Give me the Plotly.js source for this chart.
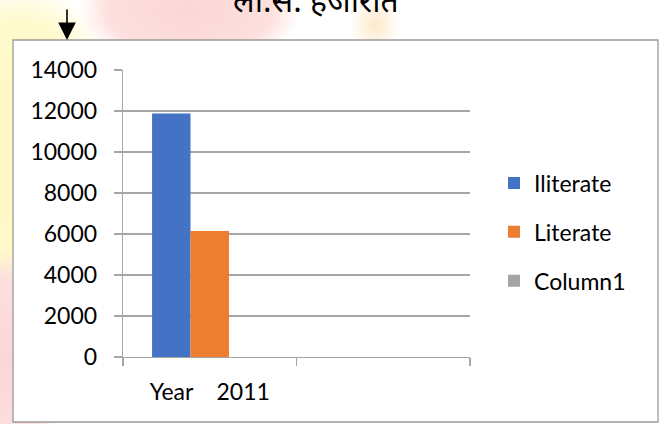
<!DOCTYPE html>
<html>
<head>
<meta charset="utf-8">
<script src="https://cdn.plot.ly/plotly-3.0.1.min.js"></script>
<style>html,body{margin:0;padding:0;background:#fff;}#chart{width:667px;height:424px;}</style>
</head>
<body>
<div id="chart"></div>
<script>
// ---- data ----
const categories = ["Year\u00a0\u00a0\u00a0\u00a02011", "\u00a0"];
const seriesNames = ["Iliterate", "Literate", "Column1"];
const illiterate = [11880, null];
const literate = [6150, null];
const column1 = [0, null];
const yTickVals = [0, 2000, 4000, 6000, 8000, 10000, 12000, 14000];
const titleText = "लो.सं. हजारात";

// ---- layout geometry (pixels) ----
const W = 667, H = 424;
const plotL = 123, plotR = 470, plotT = 70, plotB = 357;
const pw = plotR - plotL, ph = plotB - plotT;
const px = x => (x - plotL) / pw;
const py = y => (plotB - y) / ph;

const colors = ["#4472C4", "#ED7D31", "#A5A5A5"];
const values = [illiterate, literate, column1];
const FONT = "Lato, 'Open Sans', sans-serif";
const FS = 23;

const traces = seriesNames.map((n, i) => ({
  type: "bar", name: n, x: categories, y: values[i],
  marker: {color: colors[i], line: {width: 0}},
  legendgroup: "g" + i, hoverinfo: "skip"
}));

const bgSvg = `<svg xmlns='http://www.w3.org/2000/svg' width='667' height='424'>
<defs>
<radialGradient id='y' cx='0.5' cy='0.5' r='0.5'><stop offset='0' stop-color='#fff8c4'/><stop offset='0.75' stop-color='#fffacc'/><stop offset='1' stop-color='#fffacc' stop-opacity='0'/></radialGradient>
<radialGradient id='p' cx='0.5' cy='0.5' r='0.5'><stop offset='0' stop-color='#fcd6d6'/><stop offset='0.75' stop-color='#fde0de'/><stop offset='1' stop-color='#fde0de' stop-opacity='0'/></radialGradient>
<radialGradient id='o' cx='0.5' cy='0.5' r='0.5'><stop offset='0' stop-color='#fde9c8'/><stop offset='1' stop-color='#fde9c8' stop-opacity='0'/></radialGradient>
</defs>
<rect width='667' height='424' fill='#ffffff'/>
<ellipse cx='20' cy='150' rx='110' ry='170' fill='url(#y)'/>
<ellipse cx='190' cy='10' rx='110' ry='60' fill='url(#p)'/>
<ellipse cx='10' cy='360' rx='60' ry='110' fill='url(#p)'/>
<ellipse cx='375' cy='25' rx='25' ry='30' fill='url(#o)'/>
</svg>`;

const layout = {
  width: W, height: H,
  margin: {l: plotL, r: W - plotR, t: plotT, b: H - plotB, pad: 0},
  paper_bgcolor: "rgba(0,0,0,0)",
  plot_bgcolor: "rgba(0,0,0,0)",
  font: {family: FONT, size: FS, color: "#000"},
  barmode: "group", bargap: 0.335, bargroupgap: 0,
  showlegend: true,
  legend: {
    x: px(494), xanchor: "left", y: py(232), yanchor: "middle",
    traceorder: "grouped", tracegroupgap: 16,
    font: {family: FONT, size: FS, color: "#000"},
    bgcolor: "rgba(0,0,0,0)", borderwidth: 0
  },
  xaxis: {
    type: "category", categoryorder: "array", categoryarray: categories,
    range: [-0.5, 1.5], fixedrange: true,
    showline: true, linecolor: "#A6A6A6", linewidth: 1.3,
    ticks: "outside", tickson: "boundaries", ticklen: 8, tickcolor: "#A6A6A6", tickwidth: 1.3,
    showgrid: false, zeroline: false, ticklabelstandoff: 14,
    tickfont: {family: FONT, size: FS, color: "#000"}
  },
  yaxis: {
    range: [0, 14000], tickvals: yTickVals, ticktext: yTickVals.map(String),
    showline: true, linecolor: "#A6A6A6", linewidth: 1.3,
    ticks: "outside", ticklen: 8, tickcolor: "#A6A6A6", tickwidth: 1.3,
    showgrid: true, gridcolor: "#A6A6A6", gridwidth: 1.3, zeroline: false,
    ticklabelstandoff: 12, fixedrange: true,
    tickfont: {family: FONT, size: FS, color: "#000"}
  },
  images: [{
    source: "data:image/svg+xml;charset=utf-8," + encodeURIComponent(bgSvg),
    xref: "paper", yref: "paper", x: px(0), y: py(0), sizex: W / pw, sizey: H / ph,
    xanchor: "left", yanchor: "top", sizing: "stretch", layer: "below"
  }],
  shapes: [{
    type: "rect", xref: "paper", yref: "paper", layer: "below",
    x0: px(13), x1: px(658), y0: py(422), y1: py(40),
    fillcolor: "#ffffff", line: {color: "#9a9a9a", width: 1.3}
  }],
  annotations: [
    {text: titleText, xref: "paper", yref: "paper", x: px(316), y: py(27),
     xanchor: "center", yanchor: "bottom", showarrow: false,
     font: {family: "'Noto Sans Devanagari', 'Noto Sans', sans-serif", size: 32, color: "#000"}},
    {text: "", xref: "paper", yref: "paper", x: px(67), y: py(40),
     showarrow: true, ax: 0, ay: -32, axref: "pixel", ayref: "pixel",
     arrowhead: 2, arrowsize: 2.2, arrowwidth: 1.6, arrowcolor: "#000", standoff: 0}
  ]
};

Plotly.newPlot("chart", traces, layout, {staticPlot: true, displayModeBar: false});
</script>
</body>
</html>
